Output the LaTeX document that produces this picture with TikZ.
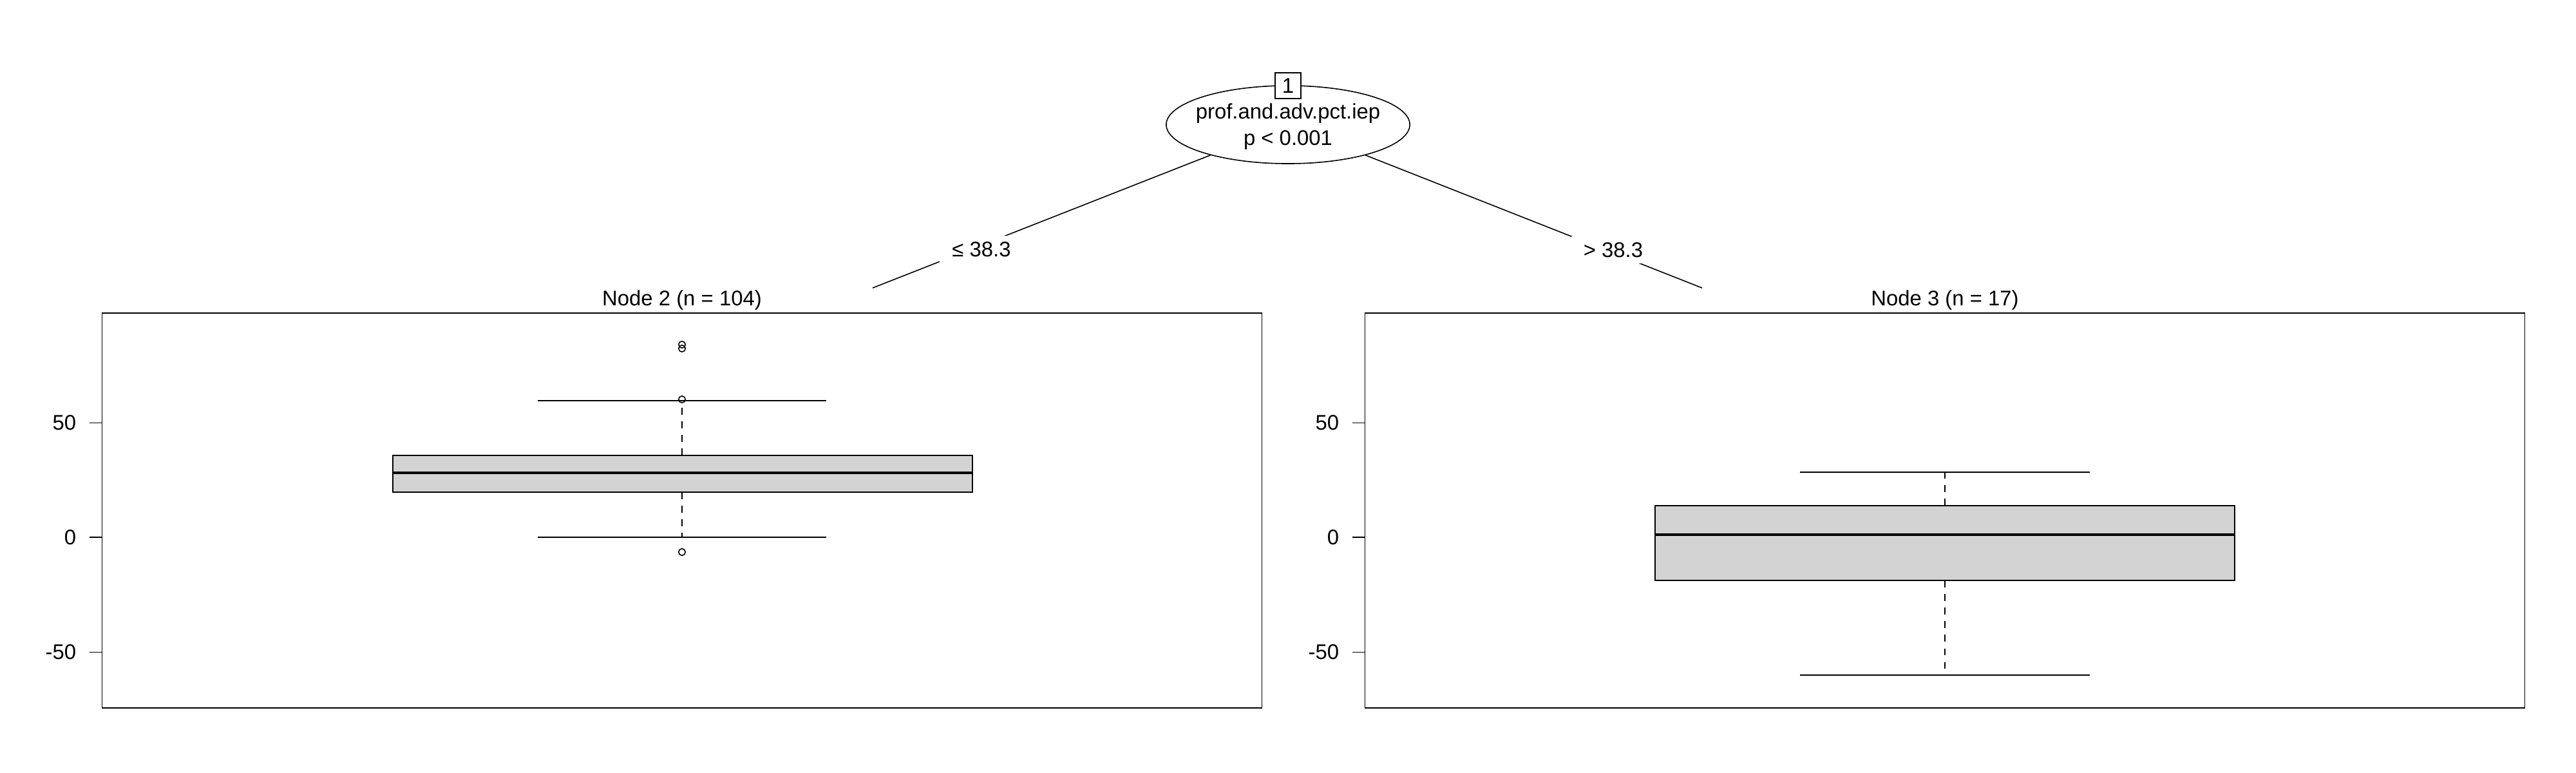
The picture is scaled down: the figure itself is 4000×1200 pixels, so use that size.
\documentclass[tikz,border=0pt]{standalone}
\usepackage{fontspec}
\setmainfont{Liberation Sans}
\usepackage{tikz}
\usetikzlibrary{shapes.geometric}
\definecolor{boxgray}{RGB}{211,211,211}

\begin{document}
\begin{tikzpicture}[x=0.01cm, y=-0.01cm, line width=0.45pt,
    font=\fontsize{9.35}{11.4}\selectfont,
    splitnode/.style={draw, ellipse, minimum width=3.78cm, minimum height=1.21cm, inner sep=0pt},
    idbox/.style={draw, fill=white, minimum size=0.4cm, inner sep=0pt},
    edgelab/.style={fill=white, minimum width=1.3cm, minimum height=0.41cm, inner sep=0pt},
    panel/.style={draw, minimum width=18cm, minimum height=6.13cm, inner sep=0pt},
    ticklab/.style={anchor=east, inner sep=0pt, xshift=-0.2cm},
    whisk/.style={dash pattern=on 3pt off 3pt},
    med/.style={line width=1.05pt}]
  \useasboundingbox (0,0) rectangle (4000,1200);
  % split node
  \node[splitnode] (n1) at (2000,193.5) {};
  \node[align=center] (n1txt) at (2000,196.5) {prof.and.adv.pct.iep\\p < 0.001};
  \node[idbox] (id1) at (2000,133) {1};
  % terminal panels
  \node[panel] (p2) at (1059,792.5) {};
  \node[panel] (p3) at (3020,792.5) {};
  \node[anchor=base] (t2) at ([yshift=0.11cm]p2.north) {Node 2 (n = 104)};
  \node[anchor=base] (t3) at ([yshift=0.11cm]p3.north) {Node 3 (n = 17)};
  % edges
  \coordinate (e2) at (1355,447);
  \coordinate (e3) at (2643,447);
  \draw (n1) -- (e2);
  \draw (n1) -- (e3);
  \node[edgelab] (l2) at (1524,387) {≤ 38.3};
  \node[edgelab] (l3) at (2505,388) {> 38.3};
  % axes
  \draw (159,656.5) -- (139,656.5) node[ticklab] (y2a) {50};
  \draw (159,834) -- (139,834) node[ticklab] (y2b) {0};
  \draw (159,1012.5) -- (139,1012.5) node[ticklab] (y2c) {-50};
  \draw (2120,656.5) -- (2100,656.5) node[ticklab] (y3a) {50};
  \draw (2120,834) -- (2100,834) node[ticklab] (y3b) {0};
  \draw (2120,1012.5) -- (2100,1012.5) node[ticklab] (y3c) {-50};
  % boxplot node 2
  \draw[whisk] (1059,707) -- (1059,622);
  \draw[whisk] (1059,764) -- (1059,834);
  \draw (835,622) -- (1283,622);
  \draw (835,834) -- (1283,834);
  \draw[fill=boxgray] (610,707) rectangle (1510,764);
  \draw[med] (610,734) -- (1510,734);
  \draw (1059,535) circle[radius=1.5pt];
  \draw (1059,541) circle[radius=1.5pt];
  \draw (1059,620) circle[radius=1.5pt];
  \draw (1059,857) circle[radius=1.5pt];
  % boxplot node 3
  \draw[whisk] (3020,785) -- (3020,733);
  \draw[whisk] (3020,901) -- (3020,1048);
  \draw (2795,733) -- (3245,733);
  \draw (2795,1048) -- (3245,1048);
  \draw[fill=boxgray] (2570,785) rectangle (3470,901);
  \draw[med] (2570,830) -- (3470,830);
\end{tikzpicture}
\end{document}
